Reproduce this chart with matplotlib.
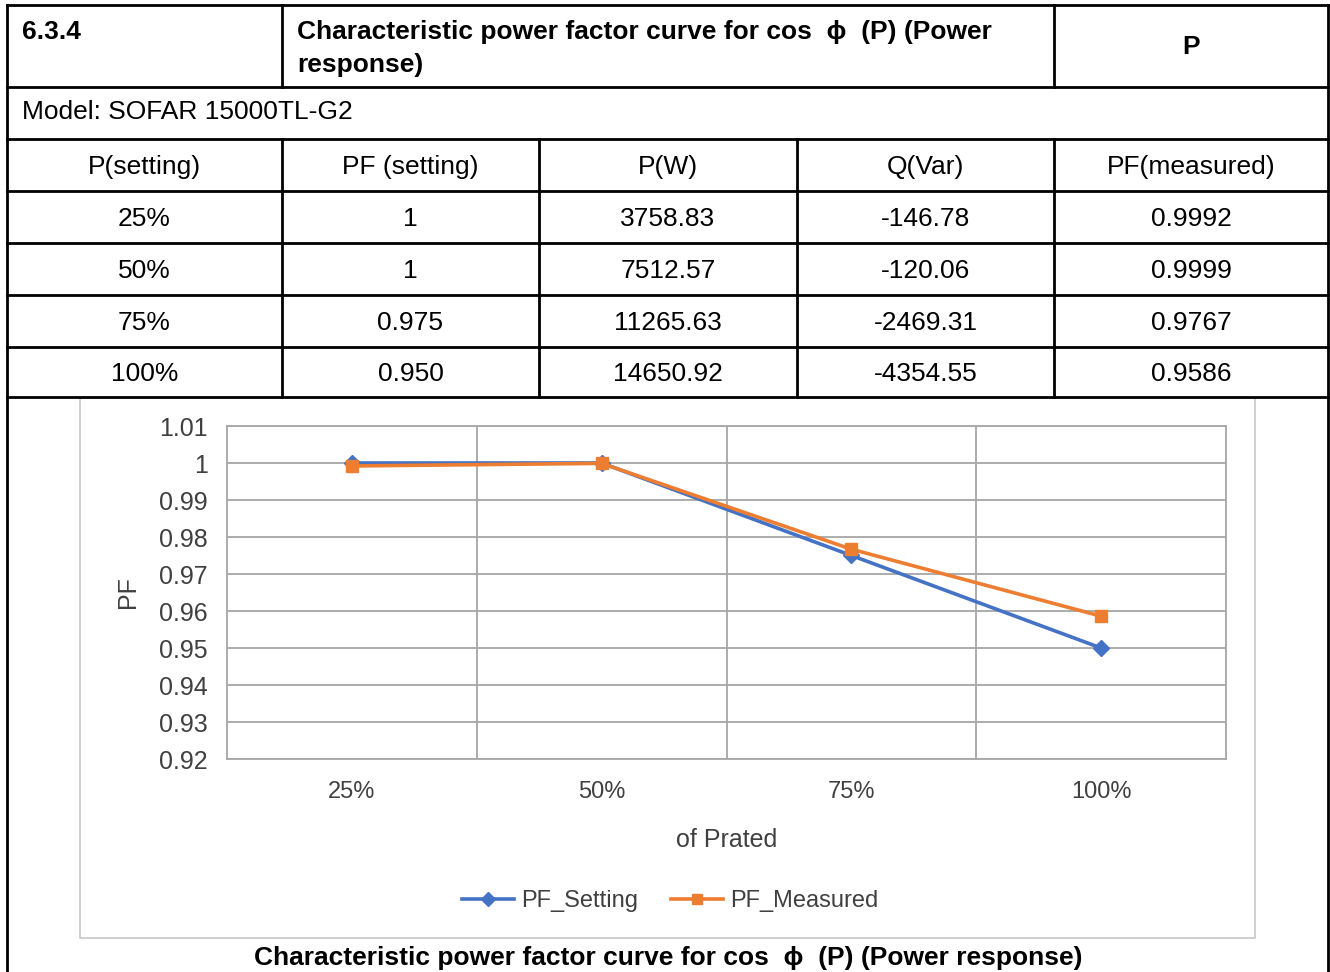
import matplotlib
matplotlib.use("Agg")
import matplotlib.pyplot as plt
from matplotlib.patches import Rectangle

# ---------------- data ----------------
section_no = "6.3.4"
title_line1 = "Characteristic power factor curve for cos  \u03d5  (P) (Power"
title_line2 = "response)"
result_col = "P"
model_text = "Model: SOFAR 15000TL-G2"
headers = ["P(setting)", "PF (setting)", "P(W)", "Q(Var)", "PF(measured)"]
p_setting = ["25%", "50%", "75%", "100%"]
pf_setting_text = ["1", "1", "0.975", "0.950"]
p_w = ["3758.83", "7512.57", "11265.63", "14650.92"]
q_var = ["-146.78", "-120.06", "-2469.31", "-4354.55"]
pf_measured_text = ["0.9992", "0.9999", "0.9767", "0.9586"]

categories = ["25%", "50%", "75%", "100%"]
pf_setting = [1.0, 1.0, 0.975, 0.950]
pf_measured = [0.9992, 0.9999, 0.9767, 0.9586]
y_ticks = [0.92, 0.93, 0.94, 0.95, 0.96, 0.97, 0.98, 0.99, 1.0, 1.01]
y_tick_labels = ["0.92", "0.93", "0.94", "0.95", "0.96", "0.97", "0.98", "0.99", "1", "1.01"]
caption = "Characteristic power factor curve for cos  \u03d5  (P) (Power response)"

W, H = 1330, 972
fig = plt.figure(figsize=(W / 100, H / 100), dpi=100)
fig.patch.set_facecolor("white")

# overlay in pixel coordinates for the table
ov = fig.add_axes([0, 0, 1, 1])
ov.set_xlim(0, W)
ov.set_ylim(H, 0)
ov.axis("off")

FAM = ["Liberation Sans", "DejaVu Sans"]
FS = 19
lw_t = 2.0

def hline(x0, x1, y):
    ov.plot([x0, x1], [y, y], color="black", lw=lw_t, solid_capstyle="projecting")

def vline(x, y0, y1):
    ov.plot([x, x], [y0, y1], color="black", lw=lw_t, solid_capstyle="projecting")

L, R = 7, 1328
col_x = [7, 282, 539, 797, 1054, 1328]
row_y = [5, 87, 139, 191, 243, 295, 347, 397]

for y in row_y:
    hline(L, R, y)
vline(L, 5, 972)
vline(R, 5, 972)
vline(282, 5, 87)
vline(1054, 5, 87)
for x in col_x[1:-1]:
    vline(x, 139, 397)

# row 1
ov.text(22, 32, section_no, fontsize=FS, fontweight="bold", family=FAM, va="center", ha="left")
ov.text(297, 32, title_line1, fontsize=FS, fontweight="bold", family=FAM, va="center", ha="left")
ov.text(297, 65, title_line2, fontsize=FS, fontweight="bold", family=FAM, va="center", ha="left")
ov.text(1191, 47, result_col, fontsize=FS, fontweight="bold", family=FAM, va="center", ha="center")
# row 2
ov.text(22, 112, model_text, fontsize=FS, family=FAM, va="center", ha="left")
# header row
centers = [(col_x[i] + col_x[i + 1]) / 2 for i in range(5)]
for cx, h in zip(centers, headers):
    ov.text(cx, 167, h, fontsize=FS, family=FAM, va="center", ha="center")
# data rows
cols = [p_setting, pf_setting_text, p_w, q_var, pf_measured_text]
for r in range(4):
    yc = (row_y[3 + r] + row_y[4 + r]) / 2 + 2
    for c in range(5):
        ov.text(centers[c], yc, cols[c][r], fontsize=FS, family=FAM, va="center", ha="center")

# chart frame
ov.add_patch(Rectangle((80, 398), 1175, 540, fill=False, edgecolor="#C8C8C8", lw=1.2))

# caption
ov.text(668, 958, caption, fontsize=FS, fontweight="bold", family=FAM, va="center", ha="center")

# ---------------- chart ----------------
px0, px1, py0, py1 = 227, 1226, 426, 759
ax = fig.add_axes([px0 / W, 1 - py1 / H, (px1 - px0) / W, (py1 - py0) / H])
x = list(range(len(categories)))
ax.set_xlim(-0.5, len(categories) - 0.5)
ax.set_ylim(0.92, 1.01)
grid_c = "#A6A6A6"
for s in ax.spines.values():
    s.set_color(grid_c)
    s.set_linewidth(1.3)
ax.set_yticks(y_ticks)
ax.yaxis.grid(True, color=grid_c, lw=1.3)
ax.set_xticks(x)
ax.set_xticks([i + 0.5 for i in x[:-1]], minor=True)
ax.xaxis.grid(True, which="minor", color=grid_c, lw=1.3)
ax.set_axisbelow(True)
ax.tick_params(length=0, which="both")

ax.set_yticklabels(y_tick_labels, fontsize=18, color="#404040", family=FAM)
ax.set_xticklabels(categories, fontsize=17, color="#404040", family=FAM)
ax.tick_params(axis="y", pad=14)
ax.tick_params(axis="x", pad=16)

blue = "#4472C4"
orange = "#ED7D31"
ax.plot(x, pf_setting, color=blue, lw=2.6, marker="D", ms=8, mec=blue, mfc=blue, label="PF_Setting", zorder=3)
ax.plot(x, pf_measured, color=orange, lw=2.6, marker="s", ms=9, mec=orange, mfc=orange, label="PF_Measured", zorder=4)

ax.set_ylabel("PF", fontsize=18, color="#404040", family=FAM)
ax.yaxis.set_label_coords((140 - px0) / (px1 - px0), 0.5)
ax.set_xlabel("of Prated", fontsize=18, color="#404040", family=FAM)
ax.xaxis.set_label_coords(0.5, -(828 - py1) / (py1 - py0))

leg = ax.legend(loc="center", bbox_to_anchor=((670 - px0) / (px1 - px0), -(901 - py1) / (py1 - py0)),
                ncol=2, frameon=False, handlelength=2.2, handletextpad=0.3,
                columnspacing=1.4, prop={"family": FAM, "size": 17})
for t in leg.get_texts():
    t.set_color("#404040")
for lh in leg.get_lines():
    lh.set_markersize(7)

fig.savefig("out.png", dpi=100, facecolor="white")
